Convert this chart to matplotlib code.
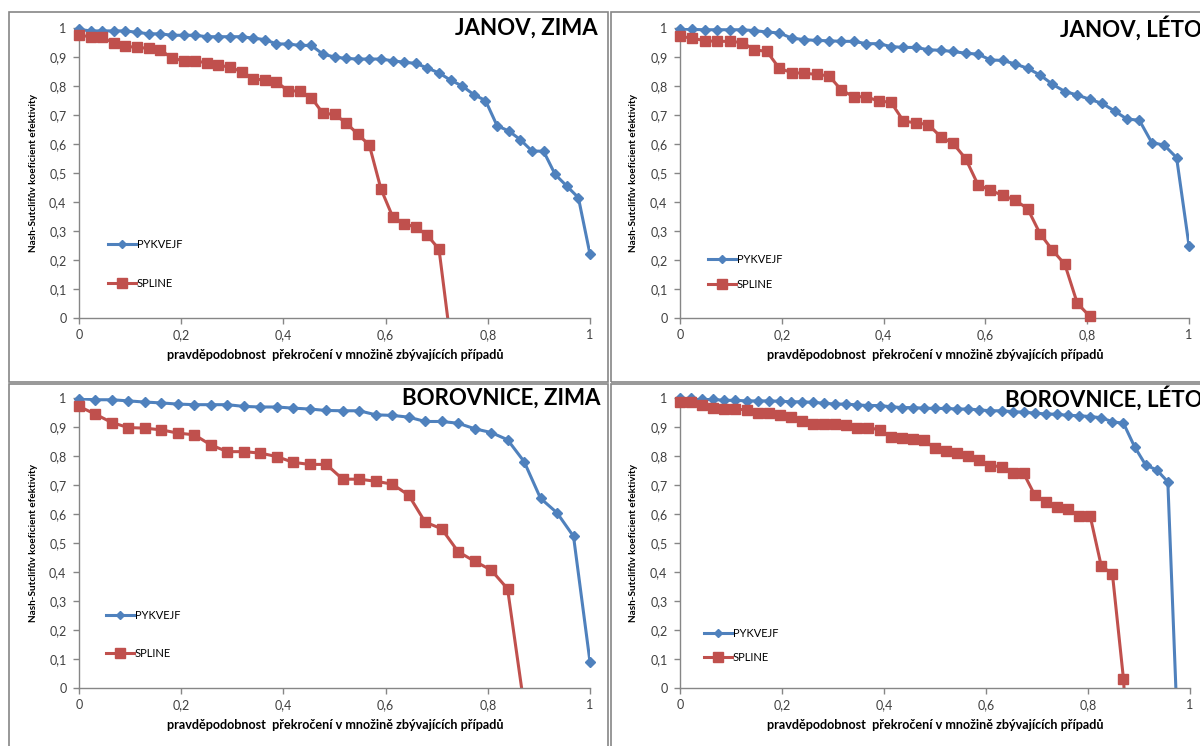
import numpy as np
import matplotlib
matplotlib.use("Agg")
import matplotlib.pyplot as plt
from matplotlib.lines import Line2D
from matplotlib.patches import Rectangle
from matplotlib.ticker import FuncFormatter, MultipleLocator

plt.rcParams['font.family'] = ['Lato', 'DejaVu Sans']

W, H = 1200, 746

# number of x positions per panel (x = i / (n - 1))
janov_zima_n = 45
janov_zima_pyk = [0.995, 0.99, 0.99, 0.99, 0.99, 0.985, 0.98, 0.98, 0.975, 0.975, 0.975,
                  0.97, 0.97, 0.97, 0.97, 0.965, 0.96, 0.945, 0.945, 0.94, 0.94, 0.91,
                  0.90, 0.895, 0.893, 0.893, 0.893, 0.887, 0.882, 0.878, 0.862, 0.845,
                  0.82, 0.80, 0.77, 0.75, 0.663, 0.645, 0.615, 0.576, 0.575, 0.495,
                  0.455, 0.415, 0.22]
janov_zima_spl = [0.975, 0.97, 0.968, 0.948, 0.937, 0.933, 0.93, 0.925, 0.896, 0.887,
                  0.885, 0.881, 0.873, 0.864, 0.85, 0.825, 0.82, 0.815, 0.783, 0.783,
                  0.76, 0.706, 0.702, 0.673, 0.634, 0.596, 0.445, 0.35, 0.325, 0.313,
                  0.285, 0.237, -0.08]

janov_leto_n = 42
janov_leto_pyk = [0.997, 0.995, 0.994, 0.994, 0.994, 0.994, 0.991, 0.986, 0.983, 0.965,
                  0.96, 0.957, 0.956, 0.954, 0.954, 0.946, 0.946, 0.936, 0.933, 0.933,
                  0.925, 0.923, 0.919, 0.913, 0.91, 0.89, 0.888, 0.876, 0.861, 0.838,
                  0.806, 0.781, 0.769, 0.754, 0.74, 0.714, 0.686, 0.682, 0.605, 0.596,
                  0.553, 0.25]
janov_leto_spl = [0.971, 0.965, 0.956, 0.954, 0.954, 0.95, 0.925, 0.919, 0.861, 0.846,
                  0.844, 0.84, 0.835, 0.786, 0.763, 0.763, 0.748, 0.744, 0.679, 0.673,
                  0.667, 0.625, 0.602, 0.55, 0.46, 0.44, 0.423, 0.406, 0.377, 0.291,
                  0.234, 0.185, 0.051, 0.006]

borov_zima_n = 32
borov_zima_pyk = [0.998, 0.994, 0.994, 0.99, 0.986, 0.983, 0.979, 0.977, 0.977, 0.977,
                  0.971, 0.969, 0.969, 0.965, 0.962, 0.957, 0.956, 0.956, 0.942, 0.94,
                  0.934, 0.919, 0.919, 0.913, 0.894, 0.881, 0.856, 0.781, 0.654, 0.604,
                  0.523, 0.09]
borov_zima_spl = [0.971, 0.944, 0.915, 0.898, 0.896, 0.89, 0.879, 0.873, 0.838, 0.815,
                  0.815, 0.81, 0.798, 0.778, 0.771, 0.771, 0.72, 0.72, 0.713, 0.703,
                  0.665, 0.572, 0.549, 0.47, 0.437, 0.407, 0.342, -0.06]

borov_leto_n = 47
borov_leto_pyk = [1.0, 0.999, 0.995, 0.995, 0.992, 0.992, 0.99, 0.99, 0.99, 0.989, 0.987,
                  0.987, 0.985, 0.982, 0.979, 0.979, 0.976, 0.974, 0.974, 0.97, 0.967,
                  0.967, 0.965, 0.964, 0.964, 0.962, 0.962, 0.959, 0.956, 0.956, 0.953,
                  0.951, 0.948, 0.945, 0.944, 0.94, 0.939, 0.936, 0.932, 0.918, 0.913,
                  0.832, 0.769, 0.752, 0.711, -0.27, -0.9]
borov_leto_spl = [0.987, 0.985, 0.976, 0.967, 0.962, 0.962, 0.959, 0.947, 0.947, 0.942,
                  0.934, 0.919, 0.909, 0.909, 0.909, 0.907, 0.898, 0.898, 0.89, 0.867,
                  0.863, 0.859, 0.855, 0.826, 0.818, 0.811, 0.8, 0.786, 0.767, 0.763,
                  0.74, 0.74, 0.665, 0.642, 0.624, 0.616, 0.592, 0.592, 0.42, 0.394,
                  0.031, -0.6]

titles = ["JANOV, ZIMA", "JANOV, LÉTO", "BOROVNICE, ZIMA", "BOROVNICE, LÉTO"]
series_names = ["PYKVEJF", "SPLINE"]
ylabel = "Nash-Sutclifův koeficient efektivity"
xlabel = "pravděpodobnost  překročení v množině zbývajících případů"

BLUE = "#4F81BD"
RED = "#C0504D"
GRID = "#868686"
TXT = "#404040"


def fbox(x0, y0, x1, y1):
    return [x0 / W, 1 - y1 / H, (x1 - x0) / W, (y1 - y0) / H]


def fmt(v, pos):
    s = "%g" % round(v, 2)
    return s.replace(".", ",")


fig = plt.figure(figsize=(12, 7.46), dpi=100)

# panel frames (each Excel chart has its own border)
for (x0, y0, x1, y1) in [(9, 12, 608, 382), (611, 12, 1210, 382),
                         (9, 384, 608, 760), (611, 384, 1210, 760)]:
    fig.add_artist(Rectangle((x0 / W, 1 - y1 / H), (x1 - x0) / W, (y1 - y0) / H,
                             transform=fig.transFigure, fill=False, ec=GRID, lw=1.2))

panels = [
    dict(n=janov_zima_n, pyk=janov_zima_pyk, spl=janov_zima_spl, box=(79, 28, 590, 318),
         title=(598, 28, "right"), ylab=(34, 173), xlab=(335, 355), leg=(108, 244, 284)),
    dict(n=janov_leto_n, pyk=janov_leto_pyk, spl=janov_leto_spl, box=(680, 28, 1189, 318),
         title=(1060, 28, "left"), ylab=(634, 173), xlab=(935, 355), leg=(708, 259, 285)),
    dict(n=borov_zima_n, pyk=borov_zima_pyk, spl=borov_zima_spl, box=(79, 398, 590, 688),
         title=(601, 398, "right"), ylab=(34, 543), xlab=(335, 725), leg=(106, 615, 654)),
    dict(n=borov_leto_n, pyk=borov_leto_pyk, spl=borov_leto_spl, box=(680, 398, 1190, 688),
         title=(1005, 398, "left"), ylab=(634, 543), xlab=(935, 725), leg=(704, 633, 658)),
]

for p, title in zip(panels, titles):
    ax = fig.add_axes(fbox(*p["box"]))
    ax.set_xlim(0, 1)
    ax.set_ylim(0, 1)
    for vals, col, mk, ms in [(p["pyk"], BLUE, "D", 5.2), (p["spl"], RED, "s", 7.5)]:
        v = np.array(vals)
        x = np.arange(len(v)) / (p["n"] - 1)
        ax.plot(x, v, color=col, lw=2.2, zorder=2)
        ok = (v >= 0) & (v <= 1.001)
        ax.plot(x[ok], v[ok], ls="none", marker=mk, ms=ms, color=col,
                mec=col, clip_on=False, zorder=3)

    for s in ["top", "right"]:
        ax.spines[s].set_visible(False)
    for s in ["left", "bottom"]:
        ax.spines[s].set_color(GRID)
        ax.spines[s].set_linewidth(1.0)
    ax.xaxis.set_major_locator(MultipleLocator(0.2))
    ax.yaxis.set_major_locator(MultipleLocator(0.1))
    ax.xaxis.set_major_formatter(FuncFormatter(fmt))
    ax.yaxis.set_major_formatter(FuncFormatter(fmt))
    ax.tick_params(colors=GRID, labelcolor=TXT, labelsize=9, length=4, width=1)
    ax.tick_params(axis="y", pad=5)
    ax.tick_params(axis="x", pad=4)
    ax.set_facecolor("none")

    tx, ty, ha = p["title"]
    fig.text(tx / W, 1 - ty / H, title, ha=ha, va="center", fontsize=16,
             fontweight="bold", color="black")
    fig.text(p["ylab"][0] / W, 1 - p["ylab"][1] / H, ylabel, rotation=90,
             ha="center", va="center", fontsize=7.2, fontweight="bold", color="black")
    fig.text(p["xlab"][0] / W, 1 - p["xlab"][1] / H, xlabel,
             ha="center", va="center", fontsize=9.1, fontweight="bold", color="black")

    lx, ly1, ly2 = p["leg"]
    handles = [Line2D([], [], color=BLUE, lw=2.2, marker="D", ms=4.5),
               Line2D([], [], color=RED, lw=2.2, marker="s", ms=7.5)]
    gap = (ly2 - ly1) / 11.1
    fig.legend(handles, series_names, loc="center left",
               bbox_to_anchor=(lx / W, 1 - (ly1 + ly2) / 2 / H),
               frameon=False, fontsize=8, handlelength=2.5, handletextpad=0.1,
               borderpad=0, borderaxespad=0, labelspacing=gap - 1.05)

fig.savefig("out.png", dpi=100)
